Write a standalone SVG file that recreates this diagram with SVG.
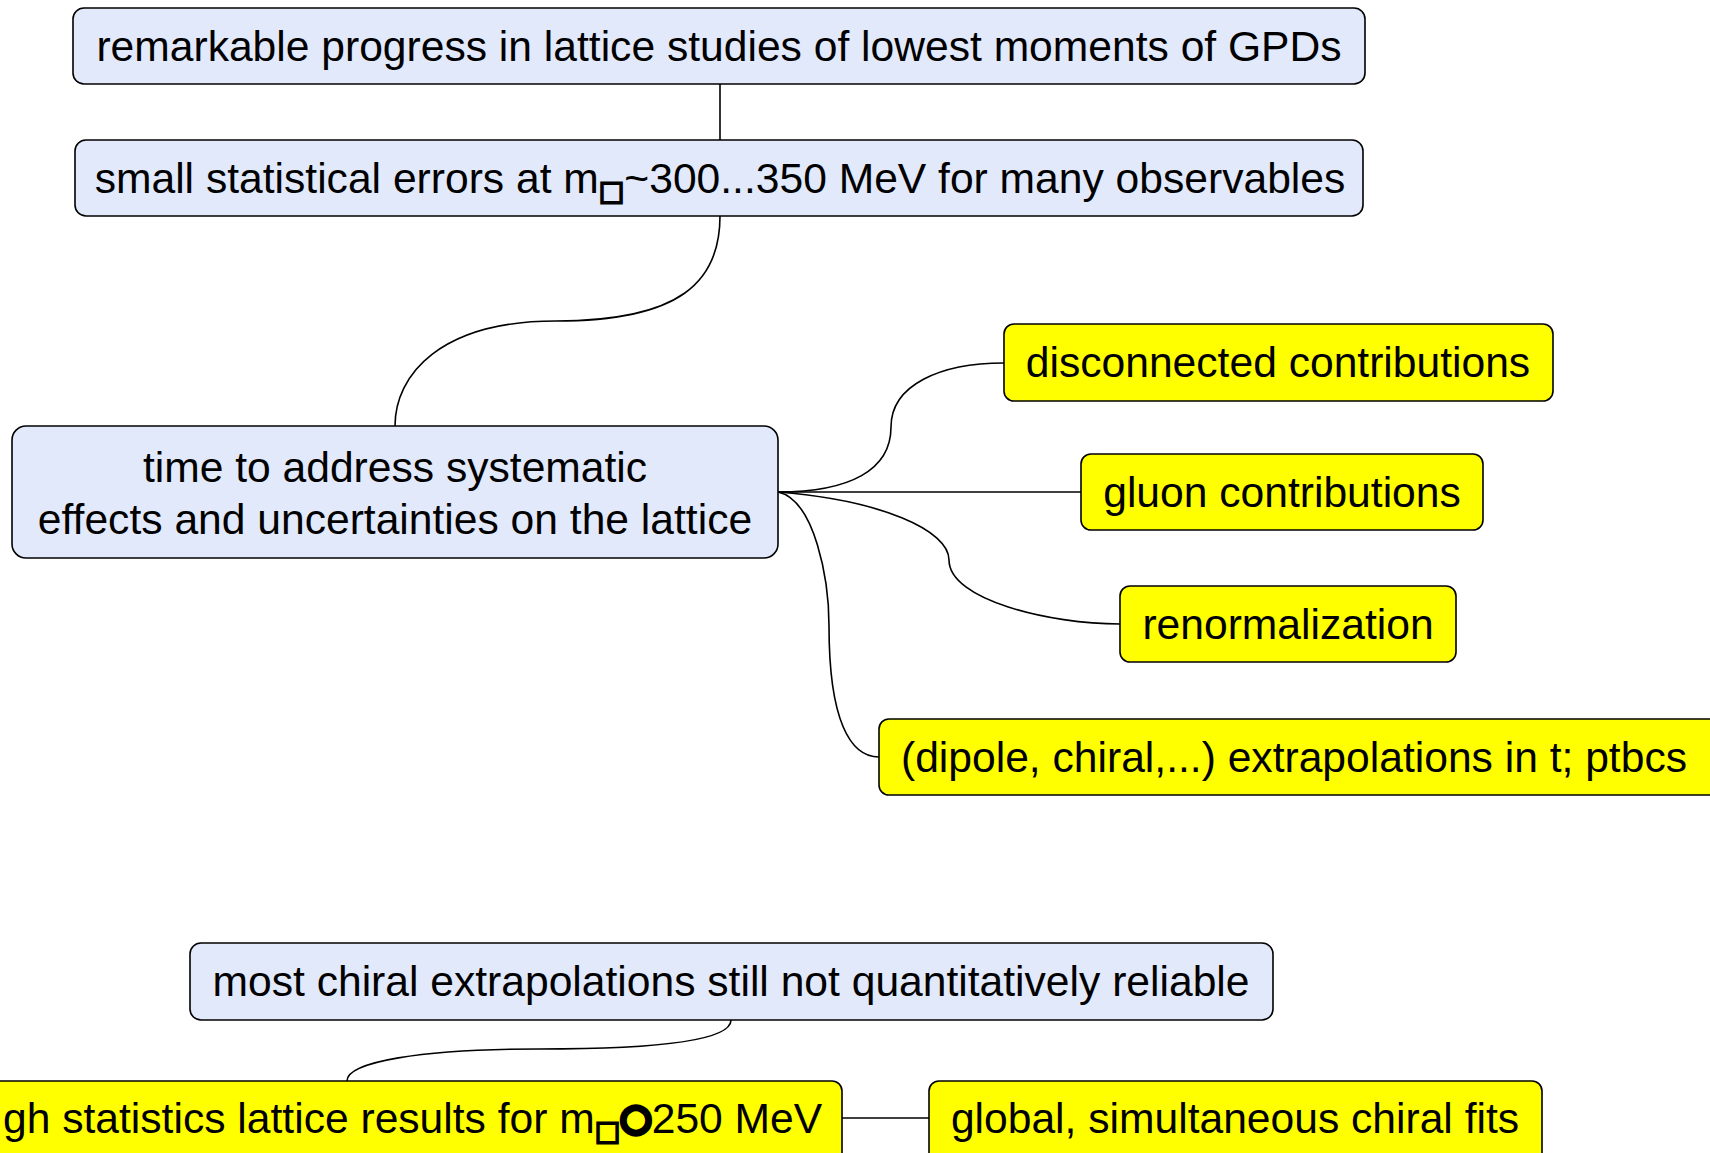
<svg xmlns="http://www.w3.org/2000/svg" width="1710" height="1153" viewBox="0 0 1710 1153">
<style>
.blue{fill:#E1E9FB;stroke:#000;stroke-width:1.6}
.yel{fill:#FFFF00;stroke:#000;stroke-width:1.6}
text{font-family:"Liberation Sans",Arial,sans-serif;font-size:42.6px;fill:#000}
.c{text-anchor:middle}
.sq{font-family:"DejaVu Sans",sans-serif;font-size:27px;stroke:#000;stroke-width:2}
.ring{font-family:"DejaVu Sans",sans-serif;font-size:36px;stroke:#000;stroke-width:5}
#connectors path{fill:none;stroke:#000;stroke-width:1.6}
</style>
<rect width="1710" height="1153" fill="#fff"/>
<g id="connectors">
<path d="M720,84 V140"/>
<path d="M720,216 C720,282 680,321 556,321 C440,321 395,375 395,426"/>
<path d="M778,492 C850,492 891,470 891,427 C891,385 940,363 1004,363"/>
<path d="M778,492 H1081"/>
<path d="M778,492 C880,500 949,530 949,560 C949,600 1050,624 1120,624"/>
<path d="M778,492 C815,500 829,580 829,626 C829,720 850,757 879,757"/>
<path d="M731,1020 C731,1042 650,1049 539,1049 C420,1049 347,1062 347,1081"/>
<path d="M842,1118 H929"/>
</g>
<g id="n1"><rect class="blue" x="73" y="8" width="1292" height="76" rx="11"/><text class="c" x="719" y="61">remarkable progress in lattice studies of lowest moments of GPDs</text></g>
<g id="n2"><rect class="blue" x="75" y="140" width="1288" height="76" rx="11"/><text class="c" x="720" y="193">small statistical errors at m<tspan class="sq" dy="7">□</tspan><tspan dy="-7">~300...350 MeV for many observables</tspan></text></g>
<g id="n3"><rect class="blue" x="12" y="426" width="766" height="132" rx="14"/><text class="c" x="395" y="482">time to address systematic</text><text class="c" x="395" y="534">effects and uncertainties on the lattice</text></g>
<g id="n4"><rect class="yel" x="1004" y="324" width="549" height="77" rx="10"/><text class="c" x="1278" y="377">disconnected contributions</text></g>
<g id="n5"><rect class="yel" x="1081" y="454" width="402" height="76" rx="10"/><text class="c" x="1282" y="507">gluon contributions</text></g>
<g id="n6"><rect class="yel" x="1120" y="586" width="336" height="76" rx="10"/><text class="c" x="1288" y="639">renormalization</text></g>
<g id="n7"><rect class="yel" x="879" y="719" width="845" height="76" rx="10"/><text x="901" y="772">(dipole, chiral,...) extrapolations in t; ptbcs</text></g>
<g id="n8"><rect class="blue" x="190" y="943" width="1083" height="77" rx="11"/><text class="c" x="731" y="996">most chiral extrapolations still not quantitatively reliable</text></g>
<g id="n9"><rect class="yel" x="-20" y="1081" width="862" height="90" rx="10"/><text x="3" y="1133">gh statistics lattice results for m<tspan class="sq" dy="7">□</tspan><tspan class="ring" dy="-10">○</tspan><tspan dy="3">250 MeV</tspan></text></g>
<g id="n10"><rect class="yel" x="929" y="1081" width="613" height="90" rx="10"/><text class="c" x="1235" y="1133">global, simultaneous chiral fits</text></g>
</svg>
